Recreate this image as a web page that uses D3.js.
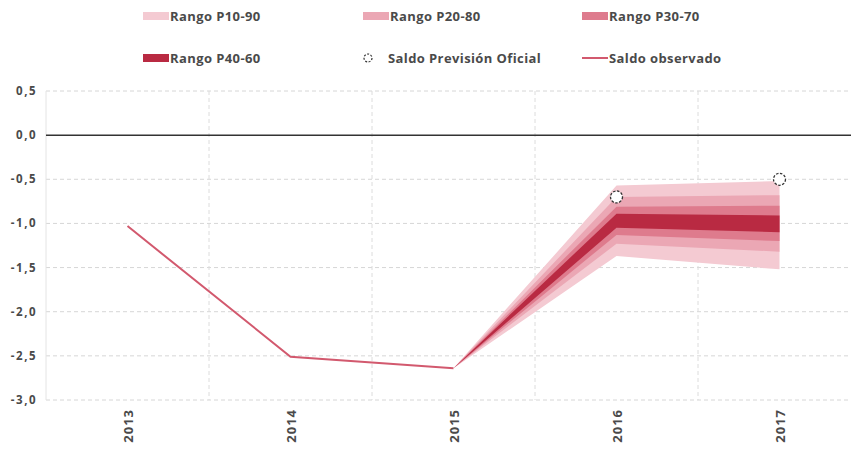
<!DOCTYPE html>
<html>
<head>
<meta charset="utf-8">
<script src="https://cdn.jsdelivr.net/npm/d3@7"></script>
<style>
  body { margin: 0; background: #fff; }
  text { font-family: "Open Sans", Lato, sans-serif; font-weight: bold; fill: #4a4a4a; }
</style>
</head>
<body>
<div id="chart"></div>
<script>
// Data
var years = ["2013", "2014", "2015", "2016", "2017"];
var observed = [-1.03, -2.51, -2.64];
var fanYears = ["2015", "2016", "2017"];
var p10 = [-2.64, -1.37, -1.52];
var p20 = [-2.64, -1.23, -1.32];
var p30 = [-2.64, -1.13, -1.20];
var p40 = [-2.64, -1.05, -1.10];
var p60 = [-2.64, -0.89, -0.91];
var p70 = [-2.64, -0.81, -0.80];
var p80 = [-2.64, -0.70, -0.68];
var p90 = [-2.64, -0.57, -0.52];
var officialYears = ["2016", "2017"];
var official = [-0.70, -0.50];
var yTicks = [0.5, 0, -0.5, -1, -1.5, -2, -2.5, -3];

var width = 851, height = 450;

var svg = d3.select("#chart")
            .append("svg")
            .attr("width", width)
            .attr("height", height);

// Scales
var x = d3.scaleBand().domain(years).range([46, 861]).padding(0);
var y = d3.scaleLinear().domain([-3, 0.5]).range([400, 91]);
var cx = function(d) { return x(d) + x.bandwidth() / 2; };

// Grid
var grid = svg.append("g");
grid.selectAll("line.h")
    .data(yTicks.filter(function(d) { return d !== 0; }))
    .enter().append("line")
    .attr("x1", 46).attr("x2", width)
    .attr("y1", function(d) { return y(d); })
    .attr("y2", function(d) { return y(d); })
    .attr("stroke", "#d6d6d6")
    .attr("stroke-dasharray", "4 3");
grid.selectAll("line.v")
    .data(years.slice(1))
    .enter().append("line")
    .attr("x1", function(d) { return x(d); })
    .attr("x2", function(d) { return x(d); })
    .attr("y1", y(0.5)).attr("y2", y(-3))
    .attr("stroke", "#dcdcdc")
    .attr("stroke-dasharray", "4 3");
grid.append("line")
    .attr("x1", 46).attr("x2", 46)
    .attr("y1", y(0.5)).attr("y2", y(-3))
    .attr("stroke", "#e4e4e4");

// Zero line
svg.append("line")
   .attr("x1", 46).attr("x2", width)
   .attr("y1", y(0)).attr("y2", y(0))
   .attr("stroke", "#333")
   .attr("stroke-width", 1.5);

// Y axis labels
svg.append("g").selectAll("text")
   .data(yTicks)
   .enter().append("text")
   .attr("x", 37)
   .attr("y", function(d) { return y(d); })
   .attr("dy", "0.35em")
   .attr("text-anchor", "end")
   .style("font-size", "11.5px")
   .style("letter-spacing", "1.5px")
   .text(function(d) { return d3.format(".1f")(d).replace(".", ",").replace("−", "-"); });

// X axis labels
svg.append("g").selectAll("text")
   .data(years)
   .enter().append("text")
   .attr("transform", function(d) { return "translate(" + (cx(d) + 5) + ",409) rotate(-90)"; })
   .attr("text-anchor", "end")
   .style("font-size", "13px")
   .style("letter-spacing", "1px")
   .text(function(d) { return d; });

// Fan bands
var bands = [
  {lo: p10, hi: p90, color: "#f4cad2"},
  {lo: p20, hi: p80, color: "#eba7b4"},
  {lo: p30, hi: p70, color: "#de7b8d"},
  {lo: p40, hi: p60, color: "#b92a42"}
];
var area = d3.area()
             .x(function(d) { return cx(d.year); })
             .y0(function(d) { return y(d.lo); })
             .y1(function(d) { return y(d.hi); });
svg.append("g").selectAll("path")
   .data(bands)
   .enter().append("path")
   .attr("fill", function(d) { return d.color; })
   .attr("d", function(b) {
     return area(fanYears.map(function(yr, i) { return {year: yr, lo: b.lo[i], hi: b.hi[i]}; }));
   });

// Observed line
var line = d3.line()
             .x(function(d, i) { return cx(years[i]); })
             .y(function(d) { return y(d); });
svg.append("path")
   .datum(observed)
   .attr("fill", "none")
   .attr("stroke", "#d2596e")
   .attr("stroke-width", 2)
   .attr("d", line);

// Official forecast points
svg.append("g").selectAll("circle")
   .data(official)
   .enter().append("circle")
   .attr("cx", function(d, i) { return cx(officialYears[i]); })
   .attr("cy", function(d) { return y(d); })
   .attr("r", 6)
   .attr("fill", "#fff")
   .attr("stroke", "#333")
   .attr("stroke-width", 1.3)
   .attr("stroke-dasharray", "2.5 1.5");

// Legend
var legendItems = [
  {label: "Rango P10-90", type: "rect", color: "#f4cad2", x: 143, y: 16},
  {label: "Rango P20-80", type: "rect", color: "#eba7b4", x: 363, y: 16},
  {label: "Rango P30-70", type: "rect", color: "#de7b8d", x: 582, y: 16},
  {label: "Rango P40-60", type: "rect", color: "#b92a42", x: 143, y: 58},
  {label: "Saldo Previsión Oficial", type: "circle", color: "#fff", x: 363, y: 58},
  {label: "Saldo observado", type: "line", color: "#d2596e", x: 582, y: 58}
];
var lg = svg.append("g").selectAll("g")
            .data(legendItems)
            .enter().append("g")
            .attr("transform", function(d) { return "translate(" + d.x + "," + d.y + ")"; });
lg.filter(function(d) { return d.type === "rect"; })
  .append("rect")
  .attr("x", 0).attr("y", -4)
  .attr("width", 26).attr("height", 8)
  .attr("fill", function(d) { return d.color; });
lg.filter(function(d) { return d.type === "line"; })
  .append("line")
  .attr("x1", 0).attr("x2", 26)
  .attr("stroke", function(d) { return d.color; })
  .attr("stroke-width", 2);
lg.filter(function(d) { return d.type === "circle"; })
  .append("circle")
  .attr("cx", 5).attr("r", 4)
  .attr("fill", "#fff")
  .attr("stroke", "#333")
  .attr("stroke-width", 1.2)
  .attr("stroke-dasharray", "2 1.5");
lg.append("text")
  .attr("x", function(d) { return d.type === "circle" ? 25 : 27; })
  .attr("dy", "0.35em")
  .style("font-size", "13px")
  .style("letter-spacing", "0.4px")
  .text(function(d) { return d.label; });
</script>
</body>
</html>
